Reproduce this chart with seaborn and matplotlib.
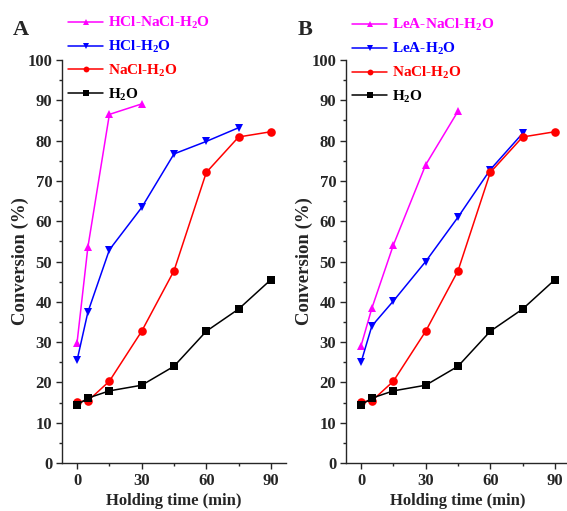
import numpy as np
import pandas as pd
import matplotlib
matplotlib.use("Agg")
import matplotlib.pyplot as plt
import seaborn as sns

# ---- data ----
t_h2o = [0, 5, 15, 30, 45, 60, 75, 90]
h2o = [14.4, 16.1, 17.9, 19.3, 24.0, 32.7, 38.2, 45.5]
t_nacl = [0, 5, 15, 30, 45, 60, 75, 90]
nacl = [15.2, 15.4, 20.3, 32.7, 47.7, 72.1, 80.9, 82.2]
t_hcl = [0, 5, 15, 30, 45, 60, 75]
hcl = [25.5, 37.4, 52.9, 63.4, 76.7, 79.8, 83.2]
t_hcl_nacl = [0, 5, 15, 30]
hcl_nacl = [29.9, 53.5, 86.5, 89.1]
t_lea = [0, 5, 15, 30, 45, 60, 75]
lea = [25.0, 34.0, 40.2, 50.0, 61.0, 72.8, 81.8]
t_lea_nacl = [0, 5, 15, 30, 45]
lea_nacl = [29.1, 38.4, 54.1, 74.0, 87.3]

labels_A = ["HCl-NaCl-H$_{2}$O", "HCl-H$_{2}$O", "NaCl-H$_{2}$O", "H$_{2}$O"]
labels_B = ["LeA-NaCl-H$_{2}$O", "LeA-H$_{2}$O", "NaCl-H$_{2}$O", "H$_{2}$O"]
colors = ["#ff00ff", "#0000ff", "#ff0000", "#000000"]
markers = ["^", "v", "o", "s"]

sns.set_style("ticks")
plt.rcParams["font.family"] = ["Liberation Serif", "DejaVu Serif"]
plt.rcParams["font.weight"] = "bold"
plt.rcParams["axes.labelweight"] = "bold"
plt.rcParams["mathtext.fontset"] = "custom"
plt.rcParams["mathtext.rm"] = "Liberation Serif:bold"
plt.rcParams["mathtext.it"] = "Liberation Serif:bold"
plt.rcParams["mathtext.bf"] = "Liberation Serif:bold"
plt.rcParams["mathtext.default"] = "rm"


def make_df(labels, ts, ys):
    rows = []
    for lab, t, y in zip(labels, ts, ys):
        for ti, yi in zip(t, y):
            rows.append((lab, ti, yi))
    return pd.DataFrame(rows, columns=["series", "time", "conv"])


dfA = make_df(labels_A, [t_hcl_nacl, t_hcl, t_nacl, t_h2o], [hcl_nacl, hcl, nacl, h2o])
dfB = make_df(labels_B, [t_lea_nacl, t_lea, t_nacl, t_h2o], [lea_nacl, lea, nacl, h2o])

fig = plt.figure(figsize=(5.67, 5.11), dpi=100)
axA = fig.add_axes([62 / 567, 1 - 463 / 511, 224 / 567, 403 / 511])
axB = fig.add_axes([346 / 567, 1 - 463 / 511, 224 / 567, 403 / 511])

for ax, df, labels, legx, legy, letter, lx in [
    (axA, dfA, labels_A, 68 / 567, 0.970, "A", 13 / 567),
    (axB, dfB, labels_B, 352 / 567, 0.966, "B", 298 / 567),
]:
    sns.lineplot(data=df, x="time", y="conv", hue="series", style="series",
                 hue_order=labels, style_order=labels,
                 palette=dict(zip(labels, colors)),
                 markers=dict(zip(labels, markers)), dashes=False,
                 markersize=6.2, markeredgewidth=0, linewidth=1.1, ax=ax)
    ax.set_xlim(-7, 97)
    ax.set_ylim(0, 100)
    ax.set_xticks([0, 30, 60, 90])
    ax.set_xticks([15, 45, 75], minor=True)
    ax.set_yticks(np.arange(0, 101, 10))
    ax.set_yticks(np.arange(5, 100, 10), minor=True)
    ax.tick_params(which="major", length=4, width=1, labelsize=12, pad=3)
    ax.tick_params(which="minor", length=2.5, width=1)
    for lab in ax.get_xticklabels() + ax.get_yticklabels():
        lab.set_fontweight("bold")
    ax.set_xlabel("Holding time (min)", fontsize=12, fontweight="bold", labelpad=3)
    ax.set_ylabel("Conversion (%)", fontsize=13.5, fontweight="bold", labelpad=-1)
    for s in ["top", "right"]:
        ax.spines[s].set_visible(False)
    for s in ["left", "bottom"]:
        ax.spines[s].set_linewidth(1)
    handles, labs = ax.get_legend_handles_labels()
    for h in handles:
        h.set_markersize(4.2)
        h.set_linewidth(1.1)
    ax.legend(handles, labs, loc="upper left", bbox_to_anchor=(legx, legy),
              bbox_transform=fig.transFigure, frameon=False, labelcolor="linecolor",
              prop={"family": "Liberation Serif", "weight": "bold", "size": 11},
              handlelength=2.3, handletextpad=0.3, labelspacing=0.5,
              borderpad=0, borderaxespad=0)
    fig.text(lx, 1 - 35 / 511, letter, fontsize=16, fontweight="bold", va="baseline", ha="left")

fig.savefig("out.png", dpi=100)
